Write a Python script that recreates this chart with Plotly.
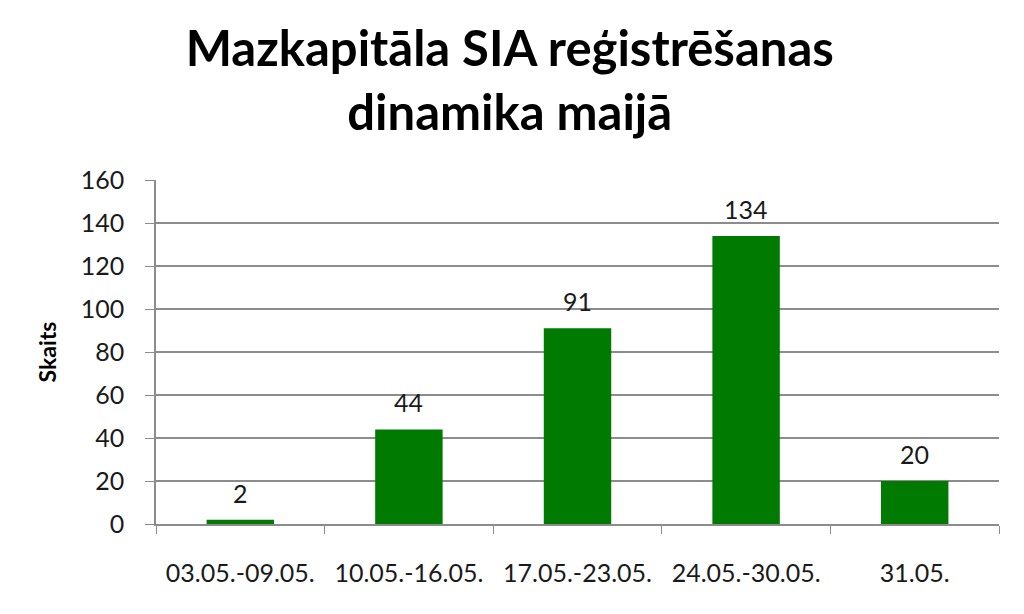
import plotly.graph_objects as go

categories = ["03.05.-09.05.", "10.05.-16.05.", "17.05.-23.05.", "24.05.-30.05.", "31.05."]
values = [2, 44, 91, 134, 20]
y_ticks = [0, 20, 40, 60, 80, 100, 120, 140, 160]

FONT = "Lato, Carlito, Calibri, sans-serif"

fig = go.Figure()
fig.add_trace(go.Bar(
    x=categories, y=values,
    marker=dict(color="#007a00", line=dict(width=0)),
    width=0.4,
    hoverinfo="x+y",
))

# value labels above the bars
for cat, val in zip(categories, values):
    fig.add_annotation(
        x=cat, y=val, text=str(val),
        showarrow=False, yanchor="bottom", yshift=10,
        font=dict(size=25, color="#1a1a1a", family=FONT),
    )

fig.update_layout(
    width=1024, height=614,
    paper_bgcolor="white", plot_bgcolor="white",
    margin=dict(l=148, r=33, t=172, b=98),
    showlegend=False,
    font=dict(family=FONT, color="#1a1a1a"),
    title=dict(
        text="<b>Mazkapitāla SIA reģistrēšanas<br>dinamika maijā</b>",
        x=0.49, xanchor="center", xref="container",
        y=0.905, yanchor="top", yref="container",
        font=dict(size=49, color="black", family=FONT),
    ),
)

fig.update_yaxes(
    range=[0, 160], tickvals=y_ticks,
    showgrid=True, gridcolor="#8c8c8c", gridwidth=1.5,
    showline=True, linecolor="#8c8c8c", linewidth=1.5,
    ticks="outside", ticklen=9, tickcolor="#8c8c8c",
    ticklabelstandoff=16,
    tickfont=dict(size=25, family=FONT, color="#1a1a1a"),
    title=dict(text="<b>Skaits</b>", font=dict(size=23, family=FONT, color="black"), standoff=18),
    zeroline=False,
)
fig.update_xaxes(
    type="category",
    showline=True, linecolor="#8c8c8c", linewidth=1.5,
    ticks="outside", ticklen=8, tickcolor="#8c8c8c", tickson="boundaries",
    ticklabelstandoff=26,
    tickfont=dict(size=25, family=FONT, color="#1a1a1a"),
)

fig.write_html("out.html")
